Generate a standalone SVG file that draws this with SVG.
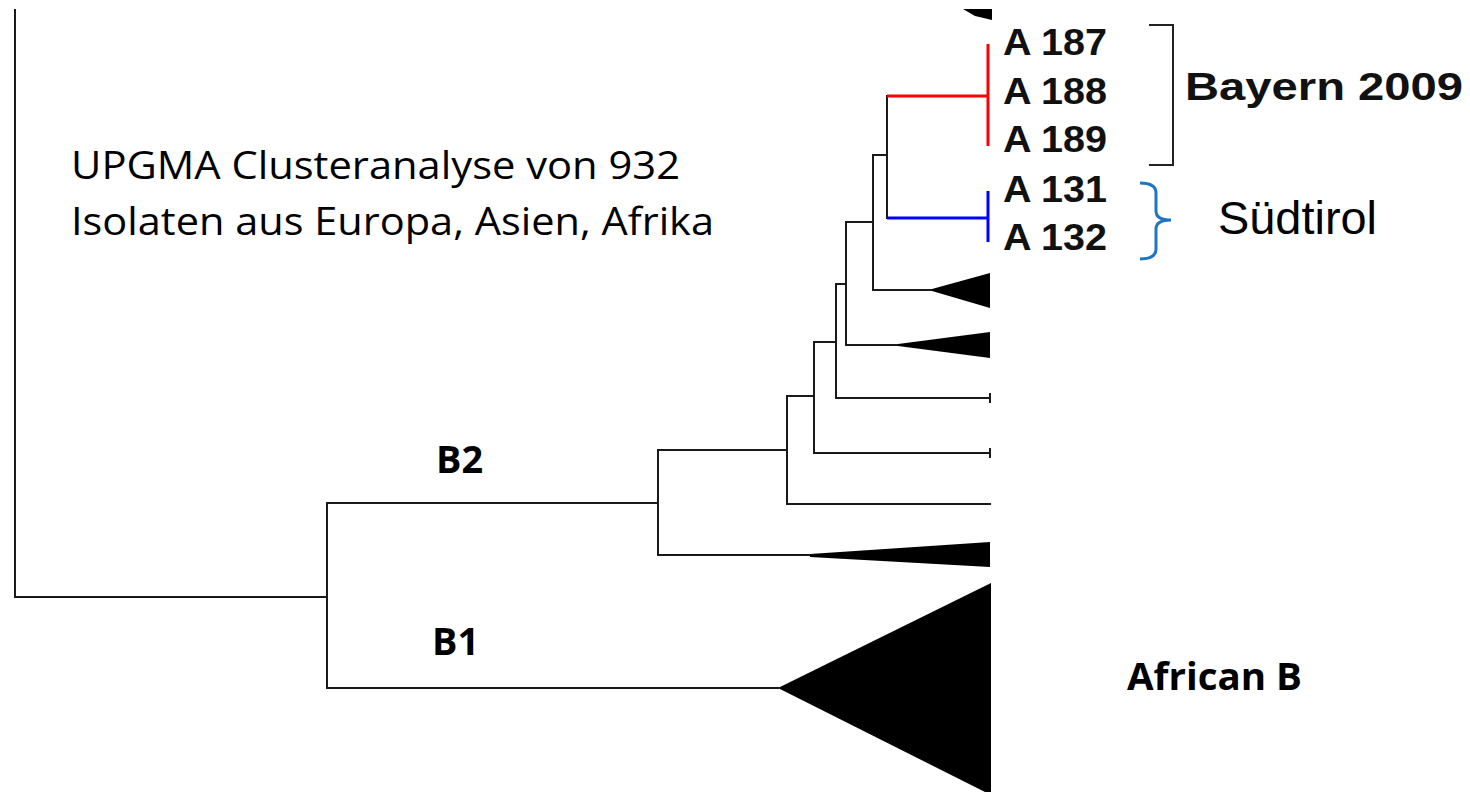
<svg xmlns="http://www.w3.org/2000/svg" width="1470" height="792" viewBox="0 0 1470 792">
<style>
.br{fill:none;stroke:#1a1a1a;stroke-width:2;stroke-linecap:square}
.tri{fill:#000;stroke:none}
.red{fill:none;stroke:#ff0000;stroke-width:3}
.blue{fill:none;stroke:#0000ff;stroke-width:3}
.iso{font-family:"Liberation Sans",Arial,sans-serif;font-weight:bold;font-size:37px;fill:#111}
.cal{font-family:"Open Sans","Liberation Sans",sans-serif;fill:#000}
.calb{font-family:"Open Sans","Liberation Sans",sans-serif;font-weight:bold;fill:#000}
</style>
<rect width="1470" height="792" fill="#fff"/>
<g id="connectors">
<path class="br" d="M15,10 V597 H327"/>
<path class="br" d="M327,503 V688 H778"/>
<path class="br" d="M327,503 H658"/>
<path class="br" d="M658,450 V555 H810"/>
<path class="br" d="M658,450 H787"/>
<path class="br" d="M787,396 V504 H990"/>
<path class="br" d="M787,396 H814"/>
<path class="br" d="M814,342 V453 H990"/>
<path class="br" d="M990,449 V457"/>
<path class="br" d="M814,342 H836"/>
<path class="br" d="M836,284 V398 H990"/>
<path class="br" d="M990,394 V402"/>
<path class="br" d="M836,284 H846"/>
<path class="br" d="M846,222 V345 H898"/>
<path class="br" d="M846,222 H873"/>
<path class="br" d="M873,155 V290 H932"/>
<path class="br" d="M873,155 H887"/>
<path class="br" d="M887,96 V218"/>
<path class="red" d="M887,96 H988 M988,44 V146"/>
<path class="blue" d="M887,218 H988 M988,191 V242"/>
</g>
<g id="clades">
<polygon class="tri" points="963,9 992,9 992,20 975,16"/>
<polygon class="tri" points="932,289 990,273 990,308 932,291"/>
<polygon class="tri" points="898,344 990,332 990,358 898,346"/>
<polygon class="tri" points="810,554 990,542 990,567 810,557"/>
<polygon class="tri" points="778,688 991,583 991,795"/>
</g>
<g id="isolates">
<text class="iso" x="1003" y="55" textLength="104" lengthAdjust="spacingAndGlyphs">A 187</text>
<text class="iso" x="1003" y="104" textLength="104" lengthAdjust="spacingAndGlyphs">A 188</text>
<text class="iso" x="1003" y="152" textLength="104" lengthAdjust="spacingAndGlyphs">A 189</text>
<text class="iso" x="1003" y="202" textLength="104" lengthAdjust="spacingAndGlyphs">A 131</text>
<text class="iso" x="1003" y="250" textLength="104" lengthAdjust="spacingAndGlyphs">A 132</text>
</g>
<g id="bayern">
<path d="M1149,25 H1173 V165 H1149" fill="none" stroke="#222" stroke-width="2"/>
<text x="1185" y="100" font-family="'Liberation Sans',Arial,sans-serif" font-weight="bold" font-size="39" textLength="278" lengthAdjust="spacingAndGlyphs" fill="#111">Bayern 2009</text>
</g>
<g id="suedtirol">
<path d="M1140,183 Q1156,183 1156,193 V211 Q1156,220 1171,220 Q1156,220 1156,229 V249 Q1156,259 1140,259" fill="none" stroke="#1f74c4" stroke-width="3"/>
<text x="1218" y="234" font-family="'Liberation Sans',Arial,sans-serif" font-size="46" textLength="159" lengthAdjust="spacingAndGlyphs" fill="#000">Südtirol</text>
</g>
<g id="title">
<text class="cal" x="71" y="179" font-size="38" textLength="609" lengthAdjust="spacingAndGlyphs">UPGMA Clusteranalyse von 932</text>
<text class="cal" x="71" y="235" font-size="38" textLength="643" lengthAdjust="spacingAndGlyphs">Isolaten aus Europa, Asien, Afrika</text>
</g>
<g id="labels">
<text class="calb" x="436" y="473" font-size="38" textLength="47" lengthAdjust="spacingAndGlyphs">B2</text>
<text class="calb" x="432" y="655" font-size="38" textLength="47" lengthAdjust="spacingAndGlyphs">B1</text>
<text class="calb" x="1127" y="690" font-size="38" textLength="175" lengthAdjust="spacingAndGlyphs">African B</text>
</g>
</svg>
